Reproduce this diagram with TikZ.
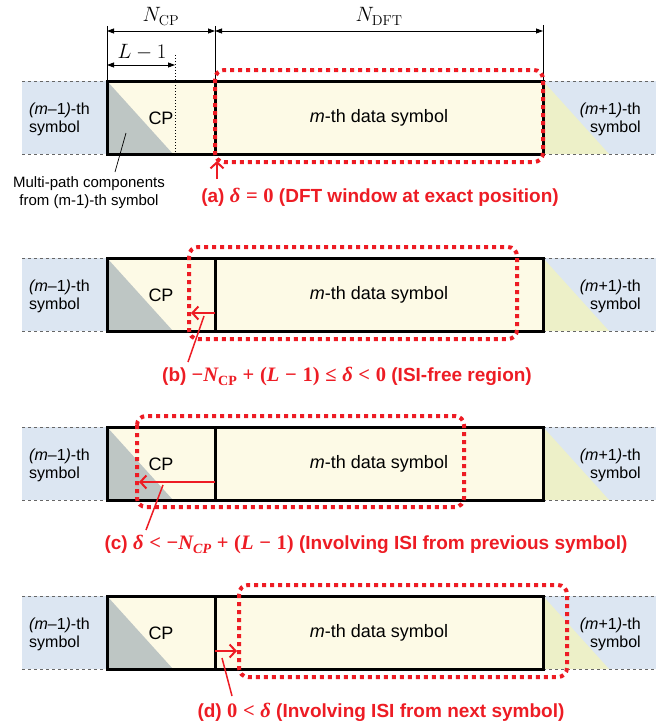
\documentclass[tikz,border=0pt]{standalone}
\usepackage[no-math]{fontspec}
\setmainfont{Liberation Sans}
\newfontfamily\eqfont[Scale=1.08]{Liberation Serif}
\usetikzlibrary{arrows.meta}

% bold formula pieces set in a serif text face
\newcommand\ebi[1]{{\eqfont\bfseries\itshape #1}}
\newcommand\eb[1]{{\eqfont\bfseries #1}}
\newcommand\eop[1]{\hspace{0.3em}\eb{#1}\hspace{0.3em}}
\newcommand\esub[1]{\raisebox{-0.35ex}{\fontsize{13}{13}\selectfont #1}}

\definecolor{prevblue}{RGB}{220,230,242}
\definecolor{cream}{RGB}{253,250,230}
\definecolor{mpgray}{RGB}{190,198,196}
\definecolor{nextyel}{RGB}{237,240,200}
\definecolor{winred}{RGB}{237,28,36}

\tikzset{
  symbox/.style={draw=black, line width=3pt},
  gdash/.style={draw=black!60, line width=1pt, dash pattern=on 3pt off 3pt},
  win/.style={draw=winred, line width=4pt, dash pattern=on 4pt off 4pt, rounded corners=9pt},
  shiftarrow/.style={draw=winred, line width=2pt,
    -{Straight Barb[length=6pt,width=13pt]}},
  leader/.style={draw=winred, line width=1.5pt},
  extline/.style={draw=black, line width=1pt},
  dim/.style={draw=black, line width=0.8pt,
    {Triangle[length=7pt,width=5pt]}-{Triangle[length=7pt,width=5pt]}},
  sidelbl/.style={font=\fontsize{16}{18}\selectfont, inner sep=0pt},
  celllbl/.style={font=\fontsize{18}{21}\selectfont, inner sep=0pt},
  notelbl/.style={font=\fontsize{15}{18}\selectfont, inner sep=0pt, align=center},
  dimlbl/.style={font=\fontsize{20}{24}\selectfont, inner sep=0pt},
  caption/.style={text=winred, inner sep=0pt,
    font=\fontsize{19}{22}\selectfont\bfseries},
  % one OFDM symbol row: previous symbol, CP, m-th data symbol, next symbol
  ofdmrow/.pic={
    \fill[prevblue] (22,0) rectangle (107,73);
    \draw[gdash] (22,0) -- (107,0) (22,73) -- (107,73);
    \fill[prevblue] (543,0) rectangle (656,73);
    \fill[nextyel] (543,0) -- (543,73) -- (609,73) -- cycle;
    \draw[gdash] (543,0) -- (656,0) (543,73) -- (656,73);
    \fill[cream] (107,0) rectangle (543,73);
    \fill[mpgray] (107,0) -- (107,73) -- (173,73) -- cycle;
    \draw[symbox] (107,0) rectangle (543,73);
    \draw[symbox] (215,0) -- (215,73);
    \node[sidelbl, anchor=west, align=left] (-prev) at (29,38)
      {\textit{(m}\textendash1\textit{)}-th\\symbol};
    \node[sidelbl, anchor=east, align=right] (-next) at (641,38)
      {\textit{(m}+1\textit{)}-th\\symbol};
    \node[celllbl] (-cp) at (161,37) {CP};
    \node[celllbl] (-data) at (379,37) {\textit{m}-th data symbol};
  }
}

\begin{document}
\begin{tikzpicture}[x=1pt,y=-1pt]
\useasboundingbox (0,0) rectangle (656,725);

% the four rows
\pic (a) at (0,81) {ofdmrow};
\pic (b) at (0,258) {ofdmrow};
\pic (c) at (0,427) {ofdmrow};
\pic (d) at (0,596) {ofdmrow};

% dimensions above row (a)
\coordinate (e1t) at (107,26);  \coordinate (e1b) at (107,81);
\coordinate (e2t) at (215,26);  \coordinate (e2b) at (215,81);
\coordinate (e3t) at (543,25);  \coordinate (e3b) at (543,81);
\coordinate (lt) at (175,55);   \coordinate (lb) at (175,154);
\draw[extline] (e1t) -- (e1b);
\draw[extline] (e2t) -- (e2b);
\draw[extline] (e3t) -- (e3b);
\draw[extline, dash pattern=on 1.2pt off 1.8pt] (lt) -- (lb);
\coordinate (ncpL) at (107,31); \coordinate (ncpR) at (215,31);
\coordinate (ndftR) at (543,31);
\coordinate (lmL) at (107,65);  \coordinate (lmR) at (175,65);
\draw[dim] (ncpL) -- (ncpR);
\draw[dim] (ncpR) -- (ndftR);
\draw[dim] (lmL) -- (lmR);
\node[dimlbl, anchor=base] (ncp) at (161,22) {$N_{\mathrm{CP}}$};
\node[dimlbl, anchor=base] (ndft) at (379,22) {$N_{\mathrm{DFT}}$};
\node[dimlbl, anchor=base] (lm1) at (142,59) {$L-1$};

% multi-path note
\node[notelbl] (mpnote) at (89,193) {Multi-path components\\from (m-1)-th symbol};
\coordinate (mpfoot) at (115,172);
\coordinate (mptip) at (126,133);
\draw[line width=0.7pt] (mpfoot) -- (mptip);

% (a) exact position
\draw[win] (215,70) rectangle (543,162);
\coordinate (aup0) at (217,179);
\coordinate (aup1) at (217,161);
\draw[shiftarrow] (aup0) -- (aup1);
\node[caption] (capa) at (380,197)
  {(a) \ebi{δ}\eop{=}\eb{0} (DFT window at exact position)};

% (b) ISI-free region
\draw[win] (189,247) rectangle (517,339);
\coordinate (bs0) at (215,313);
\coordinate (bs1) at (191,313);
\draw[shiftarrow] (bs0) -- (bs1);
\coordinate (bl0) at (204,316);
\coordinate (bl1) at (188,362);
\draw[leader] (bl0) -- (bl1);
\node[caption] (capb) at (347,377)
  {(b) \eb{−}\ebi{N}\esub{\eb{CP}}\eop{+}\eb{(}\ebi{L}\eop{−}\eb{1)}\eop{≤}\ebi{δ}\eop{<}\eb{0} (ISI-free region)};

% (c) ISI from previous symbol
\draw[win] (137,416) rectangle (464,507);
\coordinate (cs0) at (215,482);
\coordinate (cs1) at (139,482);
\draw[shiftarrow] (cs0) -- (cs1);
\coordinate (cl0) at (163,485);
\coordinate (cl1) at (146,530);
\draw[leader] (cl0) -- (cl1);
\node[caption] (capc) at (366,545)
  {(c) \ebi{δ}\eop{<}\eb{−}\ebi{N}\esub{\ebi{CP}}\eop{+}\eb{(}\ebi{L}\eop{−}\eb{1)} (Involving ISI from previous symbol)};

% (d) ISI from next symbol
\draw[win] (239,585) rectangle (567,677);
\coordinate (ds0) at (215,651);
\coordinate (ds1) at (237,651);
\draw[shiftarrow] (ds0) -- (ds1);
\coordinate (dl0) at (222,658);
\coordinate (dl1) at (232,696);
\draw[leader] (dl0) -- (dl1);
\node[caption] (capd) at (381,712)
  {(d) \eb{0}\eop{<}\ebi{δ} (Involving ISI from next symbol)};
\end{tikzpicture}
\end{document}
